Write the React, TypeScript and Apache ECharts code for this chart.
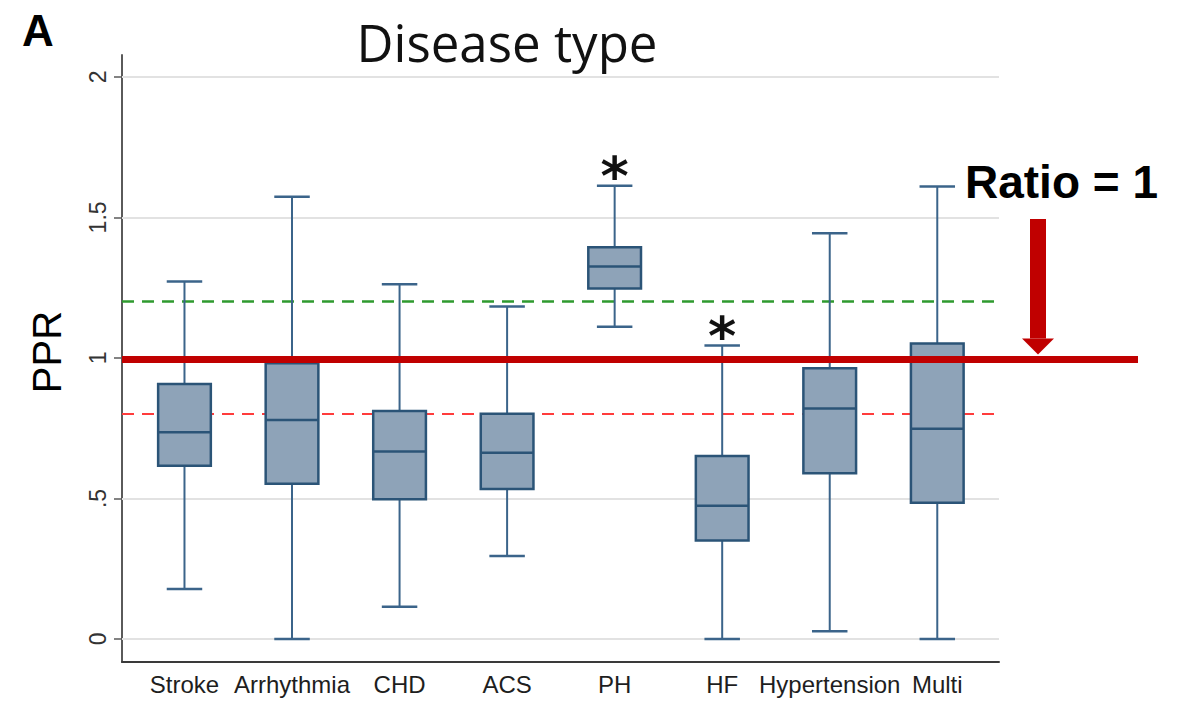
import React, { useEffect, useRef } from "react";
import * as echarts from "echarts";

// ---------- data ----------
const categories = ["Stroke", "Arrhythmia", "CHD", "ACS", "PH", "HF", "Hypertension", "Multi"];
const whiskerLow = [0.178, 0, 0.115, 0.295, 1.111, 0, 0.027, 0];
const quartile1 = [0.616, 0.552, 0.497, 0.534, 1.247, 0.35, 0.59, 0.485];
const medians = [0.736, 0.779, 0.667, 0.663, 1.325, 0.474, 0.82, 0.748];
const quartile3 = [0.907, 0.981, 0.811, 0.801, 1.394, 0.651, 0.963, 1.051];
const whiskerHigh = [1.272, 1.574, 1.262, 1.183, 1.613, 1.044, 1.444, 1.61];
const significant = [0, 0, 0, 0, 1, 1, 0, 0];
const yTicks = [0, 0.5, 1, 1.5, 2];
const yTickLabels = ["0", ".5", "1", "1.5", "2"];
const gridValues = [0, 0.5, 1, 1.5, 2];
const upperRef = 1.2;
const lowerRef = 0.8;
const ratioRef = 1;

// ---------- style ----------
const X_MIN = 0.419;
const X_MAX = 8.574;
const Y_MIN = -0.082;
const Y_MAX = 2.078;
const BOX_WIDTH = 0.49;
const CAP_WIDTH = 0.33;
const BOX_FILL = "#8ea3b8";
const BOX_EDGE = "#2b5477";
const WHISKER = "#3b648a";
const RED = "#c00000";
const SANS = '"Liberation Sans", Arial, sans-serif';

export default function App() {
  const ref = useRef<HTMLDivElement>(null);

  useEffect(() => {
    if (!ref.current) return;
    const chart = echarts.init(ref.current, null, { renderer: "svg" });

    const seriesData = categories.map((_, i) => [
      i + 1,
      whiskerLow[i],
      quartile1[i],
      medians[i],
      quartile3[i],
      whiskerHigh[i],
      significant[i],
    ]);

    const option: any = {
      animation: false,
      backgroundColor: "#ffffff",
      grid: { left: 122, right: 185, top: 55, bottom: 43, containLabel: false },
      xAxis: {
        type: "value",
        min: X_MIN,
        max: X_MAX,
        axisLine: { show: true, onZero: false, lineStyle: { color: "#3a3a3a", width: 2 } },
        axisTick: { show: false },
        splitLine: { show: false },
        axisLabel: {
          customValues: categories.map((_, i) => i + 1),
          formatter: (v: number) => categories[Math.round(v) - 1] ?? "",
          fontSize: 24,
          fontFamily: SANS,
          color: "#1e1e1e",
          margin: 10,
        },
      },
      yAxis: {
        type: "value",
        min: Y_MIN,
        max: Y_MAX,
        axisLine: { show: true, onZero: false, lineStyle: { color: "#5a5a5a", width: 2 } },
        axisTick: {
          show: true,
          customValues: yTicks,
          length: 8,
          lineStyle: { color: "#5a5a5a", width: 1.5 },
        },
        axisLabel: {
          customValues: yTicks,
          rotate: 90,
          formatter: (v: number) => {
            const idx = yTicks.findIndex((t) => Math.abs(t - v) < 1e-6);
            return idx >= 0 ? yTickLabels[idx] : "";
          },
          fontSize: 23,
          fontFamily: SANS,
          color: "#333333",
          margin: 13,
        },
        splitLine: { show: false },
      },
      series: [
        {
          type: "custom",
          z: 3,
          data: seriesData,
          encode: { x: 0, y: [1, 2, 3, 4, 5] },
          renderItem: (params: any, api: any) => {
            const x = api.value(0);
            const pLo = api.coord([x, api.value(1)]);
            const pQ1 = api.coord([x, api.value(2)]);
            const pMed = api.coord([x, api.value(3)]);
            const pQ3 = api.coord([x, api.value(4)]);
            const pHi = api.coord([x, api.value(5)]);
            const bw = api.size([BOX_WIDTH, 0])[0];
            const cw = api.size([CAP_WIDTH, 0])[0];
            const cx = pLo[0];
            const wStyle = { stroke: WHISKER, lineWidth: 2 };
            const children: any[] = [
              { type: "line", shape: { x1: cx, y1: pLo[1], x2: cx, y2: pQ1[1] }, style: wStyle },
              { type: "line", shape: { x1: cx, y1: pQ3[1], x2: cx, y2: pHi[1] }, style: wStyle },
              { type: "line", shape: { x1: cx - cw / 2, y1: pLo[1], x2: cx + cw / 2, y2: pLo[1] }, style: { stroke: WHISKER, lineWidth: 2.5 } },
              { type: "line", shape: { x1: cx - cw / 2, y1: pHi[1], x2: cx + cw / 2, y2: pHi[1] }, style: { stroke: WHISKER, lineWidth: 2.5 } },
              {
                type: "rect",
                shape: { x: cx - bw / 2, y: pQ3[1], width: bw, height: pQ1[1] - pQ3[1] },
                style: { fill: BOX_FILL, stroke: BOX_EDGE, lineWidth: 2.5 },
              },
              {
                type: "line",
                shape: { x1: cx - bw / 2, y1: pMed[1], x2: cx + bw / 2, y2: pMed[1] },
                style: { stroke: BOX_EDGE, lineWidth: 2.5 },
              },
            ];
            if (api.value(6)) {
              children.push({
                type: "text",
                x: cx,
                y: pHi[1] - 9,
                style: {
                  text: "*",
                  font: 'bold 54px "DejaVu Sans", sans-serif',
                  fill: "#111111",
                  align: "center",
                  verticalAlign: "middle",
                },
              });
            }
            return { type: "group", children };
          },
          markLine: {
            z: 1,
            silent: true,
            symbol: "none",
            label: { show: false },
            data: [
              ...gridValues.map((v) => ({
                yAxis: v,
                lineStyle: { color: "#e2e2e2", width: 2, type: "solid" },
              })),
              { yAxis: upperRef, lineStyle: { color: "#2f9a2f", width: 2.5, type: [12, 8] } },
              { yAxis: lowerRef, lineStyle: { color: "#ff3c3c", width: 2, type: [12, 8] } },
            ],
          },
        },
      ],
    };

    chart.setOption(option);

    const left = chart.convertToPixel({ xAxisIndex: 0, yAxisIndex: 0 }, [X_MIN, ratioRef]) as number[];
    const yLine = left[1] + 1.5;
    const xStart = left[0];
    const xEnd = 1138;
    const arrowCx = 1038;
    const tipY = yLine - 5;

    chart.setOption({
      graphic: {
        elements: [
          {
            type: "text",
            x: 22,
            y: 30,
            style: { text: "A", font: `bold 44px ${SANS}`, fill: "#000", align: "left", verticalAlign: "middle" },
          },
          {
            type: "text",
            x: 507,
            y: 42,
            style: { text: "Disease type", font: '51px "Open Sans", sans-serif', fill: "#111", align: "center", verticalAlign: "middle" },
          },
          {
            type: "text",
            x: 47,
            y: 352,
            rotation: Math.PI / 2,
            style: { text: "PPR", font: `40px ${SANS}`, fill: "#000", align: "center", verticalAlign: "middle" },
          },
          {
            type: "line",
            z: 100,
            shape: { x1: xStart, y1: yLine, x2: xEnd, y2: yLine },
            style: { stroke: RED, lineWidth: 7 },
          },
          {
            type: "text",
            x: 965,
            y: 182,
            style: { text: "Ratio = 1", font: `bold 46px ${SANS}`, fill: "#000", align: "left", verticalAlign: "middle" },
          },
          {
            type: "rect",
            z: 100,
            shape: { x: arrowCx - 8, y: 219, width: 16, height: tipY - 16 - 219 },
            style: { fill: RED },
          },
          {
            type: "polygon",
            z: 100,
            shape: { points: [[arrowCx - 16, tipY - 16], [arrowCx + 16, tipY - 16], [arrowCx, tipY]] },
            style: { fill: RED },
          },
        ],
      },
    });

    return () => chart.dispose();
  }, []);

  return (
    <div
      ref={ref}
      style={{ position: "absolute", left: 0, top: 0, width: 1184, height: 705, background: "#fff" }}
    />
  );
}
